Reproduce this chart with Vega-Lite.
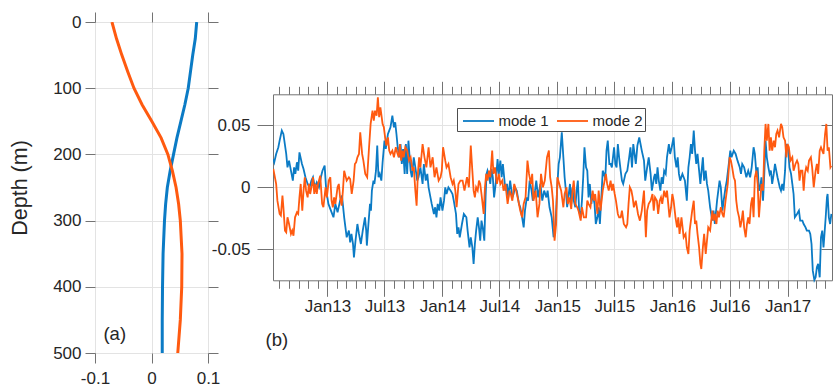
{
  "$schema": "https://vega.github.io/schema/vega-lite/v6.json",
  "background": "white",
  "padding": {"left": 9, "top": 11, "right": 0, "bottom": 0},
  "spacing": -10,
  "resolve": {"scale": {"color": "independent"}, "legend": {"color": "independent"}},
  "config": {
    "font": "Liberation Sans",
    "view": {"stroke": "#737373", "strokeWidth": 1},
    "axis": {"domain": false, "domainColor": "#737373", "domainWidth": 1, "tickColor": "#737373", "tickWidth": 1, "labelFont": "Liberation Sans", "labelFontSize": 17, "labelColor": "#262626", "gridColor": "#e3e3e3", "titleFont": "Liberation Sans", "titleFontWeight": "normal", "titleColor": "#262626", "labelOverlap": false, "labelFlush": false, "labelBound": false}
  },
  "hconcat": [
    {
      "width": 113,
      "height": 331,
      "data": {"values": [
        {"depth": 0, "mode": "mode 1", "value": 0.080},
        {"depth": 25, "mode": "mode 1", "value": 0.0775},
        {"depth": 50, "mode": "mode 1", "value": 0.073},
        {"depth": 75, "mode": "mode 1", "value": 0.069},
        {"depth": 100, "mode": "mode 1", "value": 0.065},
        {"depth": 125, "mode": "mode 1", "value": 0.059},
        {"depth": 150, "mode": "mode 1", "value": 0.052},
        {"depth": 175, "mode": "mode 1", "value": 0.045},
        {"depth": 200, "mode": "mode 1", "value": 0.039},
        {"depth": 225, "mode": "mode 1", "value": 0.033},
        {"depth": 250, "mode": "mode 1", "value": 0.028},
        {"depth": 275, "mode": "mode 1", "value": 0.025},
        {"depth": 300, "mode": "mode 1", "value": 0.023},
        {"depth": 350, "mode": "mode 1", "value": 0.0205},
        {"depth": 400, "mode": "mode 1", "value": 0.0195},
        {"depth": 450, "mode": "mode 1", "value": 0.019},
        {"depth": 500, "mode": "mode 1", "value": 0.019},
        {"depth": 0, "mode": "mode 2", "value": -0.070},
        {"depth": 25, "mode": "mode 2", "value": -0.062},
        {"depth": 50, "mode": "mode 2", "value": -0.0525},
        {"depth": 75, "mode": "mode 2", "value": -0.042},
        {"depth": 100, "mode": "mode 2", "value": -0.031},
        {"depth": 125, "mode": "mode 2", "value": -0.0166},
        {"depth": 150, "mode": "mode 2", "value": 0.0005},
        {"depth": 175, "mode": "mode 2", "value": 0.017},
        {"depth": 200, "mode": "mode 2", "value": 0.029},
        {"depth": 225, "mode": "mode 2", "value": 0.037},
        {"depth": 250, "mode": "mode 2", "value": 0.0435},
        {"depth": 275, "mode": "mode 2", "value": 0.048},
        {"depth": 300, "mode": "mode 2", "value": 0.051},
        {"depth": 350, "mode": "mode 2", "value": 0.054},
        {"depth": 400, "mode": "mode 2", "value": 0.0535},
        {"depth": 450, "mode": "mode 2", "value": 0.051},
        {"depth": 500, "mode": "mode 2", "value": 0.0465}
      ]},
      "layer": [
        {
          "mark": {"type": "line", "strokeWidth": 3, "clip": true},
          "encoding": {
            "x": {"field": "value", "type": "quantitative", "scale": {"domain": [-0.1, 0.1], "nice": false, "zero": false},
              "axis": {"orient": "bottom", "values": [-0.1, 0, 0.1], "title": null, "tickSize": 10, "labelPadding": 7, "grid": true,
                "labelExpr": "datum.value == 0 ? '0' : (datum.value < 0 ? '-' : '') + format(abs(datum.value), '.1f')"}},
            "y": {"field": "depth", "type": "quantitative", "scale": {"domain": [0, 500], "reverse": true, "nice": false},
              "axis": {"orient": "left", "values": [0, 100, 200, 300, 400, 500], "title": "Depth (m)", "titleFontSize": 21.5, "titlePadding": 21, "tickSize": 10, "labelPadding": 4, "grid": true}},
            "color": {"field": "mode", "type": "nominal", "scale": {"domain": ["mode 1", "mode 2"], "range": ["#0B7BC5", "#FF5A10"]}, "legend": null},
            "order": {"field": "depth", "type": "quantitative"}
          }
        },
        {
          "mark": {"type": "point", "opacity": 0},
          "encoding": {
            "x": {"field": "value", "type": "quantitative", "axis": {"orient": "top", "values": [-0.1, 0, 0.1], "labels": false, "title": null, "tickSize": 10, "grid": false}},
            "y": {"field": "depth", "type": "quantitative", "axis": {"orient": "right", "values": [0, 100, 200, 300, 400, 500], "labels": false, "title": null, "tickSize": 10, "grid": false}}
          }
        },
        {
          "data": {"values": [{"value": -0.065, "depth": 472, "label": "(a)"}]},
          "mark": {"type": "text", "fontSize": 18.5, "color": "#262626", "align": "center", "baseline": "middle"},
          "encoding": {
            "x": {"field": "value", "type": "quantitative", "axis": null},
            "y": {"field": "depth", "type": "quantitative", "axis": null},
            "text": {"field": "label"}
          }
        }
      ],
      "resolve": {"axis": {"x": "independent", "y": "independent"}}
    },
    {
      "width": 559,
      "height": 331,
      "view": {"stroke": null},
      "data": {"values": [
        {"date": "2012-07-13", "mode": "mode 1", "value": 0.0228},
        {"date": "2012-07-16", "mode": "mode 1", "value": 0.0202},
        {"date": "2012-07-22", "mode": "mode 1", "value": 0.0269},
        {"date": "2012-07-29", "mode": "mode 1", "value": 0.0323},
        {"date": "2012-08-02", "mode": "mode 1", "value": 0.0376},
        {"date": "2012-08-09", "mode": "mode 1", "value": 0.0457},
        {"date": "2012-08-14", "mode": "mode 1", "value": 0.0430},
        {"date": "2012-08-23", "mode": "mode 1", "value": 0.0269},
        {"date": "2012-08-27", "mode": "mode 1", "value": 0.0161},
        {"date": "2012-09-01", "mode": "mode 1", "value": 0.0215},
        {"date": "2012-09-07", "mode": "mode 1", "value": 0.0134},
        {"date": "2012-09-13", "mode": "mode 1", "value": 0.0054},
        {"date": "2012-09-17", "mode": "mode 1", "value": 0.0161},
        {"date": "2012-09-21", "mode": "mode 1", "value": 0.0108},
        {"date": "2012-09-26", "mode": "mode 1", "value": 0.0202},
        {"date": "2012-09-30", "mode": "mode 1", "value": 0.0134},
        {"date": "2012-10-04", "mode": "mode 1", "value": 0.0282},
        {"date": "2012-10-12", "mode": "mode 1", "value": 0.0188},
        {"date": "2012-10-17", "mode": "mode 1", "value": 0.0148},
        {"date": "2012-10-23", "mode": "mode 1", "value": 0.0081},
        {"date": "2012-10-30", "mode": "mode 1", "value": 0.0027},
        {"date": "2012-11-05", "mode": "mode 1", "value": 0.0},
        {"date": "2012-11-11", "mode": "mode 1", "value": 0.0054},
        {"date": "2012-11-16", "mode": "mode 1", "value": 0.0081},
        {"date": "2012-11-22", "mode": "mode 1", "value": 0.0},
        {"date": "2012-11-28", "mode": "mode 1", "value": 0.0040},
        {"date": "2012-12-05", "mode": "mode 1", "value": 0.0},
        {"date": "2012-12-11", "mode": "mode 1", "value": 0.0081},
        {"date": "2012-12-16", "mode": "mode 1", "value": 0.0134},
        {"date": "2012-12-23", "mode": "mode 1", "value": 0.0175},
        {"date": "2012-12-28", "mode": "mode 1", "value": -0.0027},
        {"date": "2013-01-04", "mode": "mode 1", "value": -0.0134},
        {"date": "2013-01-12", "mode": "mode 1", "value": -0.0188},
        {"date": "2013-01-20", "mode": "mode 1", "value": -0.0242},
        {"date": "2013-01-26", "mode": "mode 1", "value": -0.0134},
        {"date": "2013-02-02", "mode": "mode 1", "value": -0.0202},
        {"date": "2013-02-10", "mode": "mode 1", "value": -0.0108},
        {"date": "2013-02-16", "mode": "mode 1", "value": -0.0067},
        {"date": "2013-02-23", "mode": "mode 1", "value": -0.0242},
        {"date": "2013-02-27", "mode": "mode 1", "value": -0.0323},
        {"date": "2013-03-03", "mode": "mode 1", "value": -0.0403},
        {"date": "2013-03-10", "mode": "mode 1", "value": -0.0349},
        {"date": "2013-03-14", "mode": "mode 1", "value": -0.0444},
        {"date": "2013-03-18", "mode": "mode 1", "value": -0.0376},
        {"date": "2013-03-23", "mode": "mode 1", "value": -0.0457},
        {"date": "2013-03-26", "mode": "mode 1", "value": -0.0565},
        {"date": "2013-03-31", "mode": "mode 1", "value": -0.0430},
        {"date": "2013-04-06", "mode": "mode 1", "value": -0.0296},
        {"date": "2013-04-11", "mode": "mode 1", "value": -0.0376},
        {"date": "2013-04-17", "mode": "mode 1", "value": -0.0457},
        {"date": "2013-04-23", "mode": "mode 1", "value": -0.0349},
        {"date": "2013-04-30", "mode": "mode 1", "value": -0.0242},
        {"date": "2013-05-04", "mode": "mode 1", "value": -0.0349},
        {"date": "2013-05-06", "mode": "mode 1", "value": -0.0470},
        {"date": "2013-05-11", "mode": "mode 1", "value": -0.0296},
        {"date": "2013-05-16", "mode": "mode 1", "value": -0.0134},
        {"date": "2013-05-19", "mode": "mode 1", "value": -0.0188},
        {"date": "2013-05-22", "mode": "mode 1", "value": -0.0027},
        {"date": "2013-05-27", "mode": "mode 1", "value": 0.0054},
        {"date": "2013-05-30", "mode": "mode 1", "value": 0.0027},
        {"date": "2013-06-04", "mode": "mode 1", "value": 0.0134},
        {"date": "2013-06-08", "mode": "mode 1", "value": 0.0336},
        {"date": "2013-06-12", "mode": "mode 1", "value": 0.0081},
        {"date": "2013-06-16", "mode": "mode 1", "value": 0.0108},
        {"date": "2013-06-21", "mode": "mode 1", "value": 0.0054},
        {"date": "2013-06-25", "mode": "mode 1", "value": 0.0202},
        {"date": "2013-07-01", "mode": "mode 1", "value": 0.0376},
        {"date": "2013-07-05", "mode": "mode 1", "value": 0.0309},
        {"date": "2013-07-12", "mode": "mode 1", "value": 0.0430},
        {"date": "2013-07-16", "mode": "mode 1", "value": 0.0457},
        {"date": "2013-07-20", "mode": "mode 1", "value": 0.0484},
        {"date": "2013-07-26", "mode": "mode 1", "value": 0.0578},
        {"date": "2013-07-31", "mode": "mode 1", "value": 0.0484},
        {"date": "2013-08-04", "mode": "mode 1", "value": 0.0524},
        {"date": "2013-08-08", "mode": "mode 1", "value": 0.0430},
        {"date": "2013-08-12", "mode": "mode 1", "value": 0.0323},
        {"date": "2013-08-17", "mode": "mode 1", "value": 0.0242},
        {"date": "2013-08-21", "mode": "mode 1", "value": 0.0349},
        {"date": "2013-08-25", "mode": "mode 1", "value": 0.0188},
        {"date": "2013-08-29", "mode": "mode 1", "value": 0.0309},
        {"date": "2013-09-03", "mode": "mode 1", "value": 0.0108},
        {"date": "2013-09-07", "mode": "mode 1", "value": 0.0349},
        {"date": "2013-09-11", "mode": "mode 1", "value": 0.0108},
        {"date": "2013-09-15", "mode": "mode 1", "value": 0.0376},
        {"date": "2013-09-22", "mode": "mode 1", "value": 0.0134},
        {"date": "2013-09-26", "mode": "mode 1", "value": 0.0081},
        {"date": "2013-10-02", "mode": "mode 1", "value": 0.0242},
        {"date": "2013-10-07", "mode": "mode 1", "value": 0.0161},
        {"date": "2013-10-13", "mode": "mode 1", "value": 0.0054},
        {"date": "2013-10-17", "mode": "mode 1", "value": 0.0081},
        {"date": "2013-10-23", "mode": "mode 1", "value": 0.0161},
        {"date": "2013-10-30", "mode": "mode 1", "value": 0.0027},
        {"date": "2013-11-03", "mode": "mode 1", "value": 0.0188},
        {"date": "2013-11-09", "mode": "mode 1", "value": 0.0054},
        {"date": "2013-11-14", "mode": "mode 1", "value": 0.0108},
        {"date": "2013-11-18", "mode": "mode 1", "value": 0.0},
        {"date": "2013-11-24", "mode": "mode 1", "value": -0.0081},
        {"date": "2013-11-28", "mode": "mode 1", "value": -0.0134},
        {"date": "2013-12-05", "mode": "mode 1", "value": -0.0215},
        {"date": "2013-12-09", "mode": "mode 1", "value": -0.0161},
        {"date": "2013-12-13", "mode": "mode 1", "value": -0.0242},
        {"date": "2013-12-17", "mode": "mode 1", "value": -0.0134},
        {"date": "2013-12-22", "mode": "mode 1", "value": -0.0188},
        {"date": "2013-12-26", "mode": "mode 1", "value": -0.0081},
        {"date": "2014-01-01", "mode": "mode 1", "value": -0.0188},
        {"date": "2014-01-06", "mode": "mode 1", "value": -0.0108},
        {"date": "2014-01-10", "mode": "mode 1", "value": 0.0},
        {"date": "2014-01-14", "mode": "mode 1", "value": -0.0054},
        {"date": "2014-01-20", "mode": "mode 1", "value": 0.0},
        {"date": "2014-01-27", "mode": "mode 1", "value": -0.0027},
        {"date": "2014-02-02", "mode": "mode 1", "value": -0.0054},
        {"date": "2014-02-06", "mode": "mode 1", "value": -0.0108},
        {"date": "2014-02-13", "mode": "mode 1", "value": -0.0215},
        {"date": "2014-02-17", "mode": "mode 1", "value": -0.0376},
        {"date": "2014-02-21", "mode": "mode 1", "value": -0.0323},
        {"date": "2014-02-25", "mode": "mode 1", "value": -0.0403},
        {"date": "2014-03-04", "mode": "mode 1", "value": -0.0296},
        {"date": "2014-03-10", "mode": "mode 1", "value": -0.0215},
        {"date": "2014-03-18", "mode": "mode 1", "value": -0.0242},
        {"date": "2014-03-22", "mode": "mode 1", "value": -0.0349},
        {"date": "2014-03-28", "mode": "mode 1", "value": -0.0484},
        {"date": "2014-04-01", "mode": "mode 1", "value": -0.0403},
        {"date": "2014-04-06", "mode": "mode 1", "value": -0.0484},
        {"date": "2014-04-10", "mode": "mode 1", "value": -0.0618},
        {"date": "2014-04-14", "mode": "mode 1", "value": -0.0457},
        {"date": "2014-04-18", "mode": "mode 1", "value": -0.0349},
        {"date": "2014-04-23", "mode": "mode 1", "value": -0.0242},
        {"date": "2014-04-27", "mode": "mode 1", "value": -0.0323},
        {"date": "2014-05-01", "mode": "mode 1", "value": -0.0430},
        {"date": "2014-05-05", "mode": "mode 1", "value": -0.0269},
        {"date": "2014-05-09", "mode": "mode 1", "value": -0.0323},
        {"date": "2014-05-14", "mode": "mode 1", "value": -0.0430},
        {"date": "2014-05-18", "mode": "mode 1", "value": -0.0081},
        {"date": "2014-05-21", "mode": "mode 1", "value": 0.0108},
        {"date": "2014-05-24", "mode": "mode 1", "value": 0.0134},
        {"date": "2014-05-29", "mode": "mode 1", "value": 0.0081},
        {"date": "2014-06-02", "mode": "mode 1", "value": 0.0027},
        {"date": "2014-06-06", "mode": "mode 1", "value": 0.0148},
        {"date": "2014-06-10", "mode": "mode 1", "value": 0.0081},
        {"date": "2014-06-14", "mode": "mode 1", "value": -0.0081},
        {"date": "2014-06-19", "mode": "mode 1", "value": 0.0027},
        {"date": "2014-06-25", "mode": "mode 1", "value": 0.0228},
        {"date": "2014-06-29", "mode": "mode 1", "value": 0.0108},
        {"date": "2014-07-04", "mode": "mode 1", "value": 0.0215},
        {"date": "2014-07-08", "mode": "mode 1", "value": 0.0081},
        {"date": "2014-07-12", "mode": "mode 1", "value": 0.0188},
        {"date": "2014-07-16", "mode": "mode 1", "value": 0.0081},
        {"date": "2014-07-20", "mode": "mode 1", "value": -0.0027},
        {"date": "2014-07-25", "mode": "mode 1", "value": 0.0027},
        {"date": "2014-07-29", "mode": "mode 1", "value": -0.0081},
        {"date": "2014-08-04", "mode": "mode 1", "value": 0.0054},
        {"date": "2014-08-11", "mode": "mode 1", "value": -0.0081},
        {"date": "2014-08-15", "mode": "mode 1", "value": -0.0054},
        {"date": "2014-08-19", "mode": "mode 1", "value": 0.0},
        {"date": "2014-08-25", "mode": "mode 1", "value": -0.0027},
        {"date": "2014-09-01", "mode": "mode 1", "value": -0.0134},
        {"date": "2014-09-05", "mode": "mode 1", "value": -0.0161},
        {"date": "2014-09-11", "mode": "mode 1", "value": -0.0242},
        {"date": "2014-09-16", "mode": "mode 1", "value": -0.0323},
        {"date": "2014-09-20", "mode": "mode 1", "value": -0.0188},
        {"date": "2014-09-26", "mode": "mode 1", "value": -0.0081},
        {"date": "2014-09-30", "mode": "mode 1", "value": -0.0108},
        {"date": "2014-10-05", "mode": "mode 1", "value": 0.0054},
        {"date": "2014-10-11", "mode": "mode 1", "value": -0.0027},
        {"date": "2014-10-15", "mode": "mode 1", "value": -0.0108},
        {"date": "2014-10-22", "mode": "mode 1", "value": -0.0027},
        {"date": "2014-10-26", "mode": "mode 1", "value": 0.0054},
        {"date": "2014-11-01", "mode": "mode 1", "value": -0.0081},
        {"date": "2014-11-08", "mode": "mode 1", "value": 0.0027},
        {"date": "2014-11-14", "mode": "mode 1", "value": -0.0108},
        {"date": "2014-11-20", "mode": "mode 1", "value": -0.0027},
        {"date": "2014-11-27", "mode": "mode 1", "value": -0.0081},
        {"date": "2014-12-01", "mode": "mode 1", "value": -0.0027},
        {"date": "2014-12-07", "mode": "mode 1", "value": -0.0161},
        {"date": "2014-12-14", "mode": "mode 1", "value": -0.0242},
        {"date": "2014-12-20", "mode": "mode 1", "value": -0.0403},
        {"date": "2014-12-26", "mode": "mode 1", "value": -0.0296},
        {"date": "2014-12-31", "mode": "mode 1", "value": -0.0027},
        {"date": "2015-01-05", "mode": "mode 1", "value": 0.0188},
        {"date": "2015-01-09", "mode": "mode 1", "value": 0.0242},
        {"date": "2015-01-15", "mode": "mode 1", "value": 0.0444},
        {"date": "2015-01-20", "mode": "mode 1", "value": 0.0242},
        {"date": "2015-01-24", "mode": "mode 1", "value": 0.0081},
        {"date": "2015-01-28", "mode": "mode 1", "value": -0.0027},
        {"date": "2015-02-01", "mode": "mode 1", "value": -0.0161},
        {"date": "2015-02-06", "mode": "mode 1", "value": -0.0054},
        {"date": "2015-02-10", "mode": "mode 1", "value": 0.0027},
        {"date": "2015-02-14", "mode": "mode 1", "value": -0.0134},
        {"date": "2015-02-18", "mode": "mode 1", "value": 0.0},
        {"date": "2015-02-22", "mode": "mode 1", "value": -0.0108},
        {"date": "2015-02-27", "mode": "mode 1", "value": -0.0161},
        {"date": "2015-03-03", "mode": "mode 1", "value": -0.0027},
        {"date": "2015-03-07", "mode": "mode 1", "value": 0.0054},
        {"date": "2015-03-11", "mode": "mode 1", "value": -0.0188},
        {"date": "2015-03-16", "mode": "mode 1", "value": -0.0242},
        {"date": "2015-03-20", "mode": "mode 1", "value": -0.0108},
        {"date": "2015-03-24", "mode": "mode 1", "value": 0.0081},
        {"date": "2015-03-28", "mode": "mode 1", "value": 0.0323},
        {"date": "2015-04-02", "mode": "mode 1", "value": 0.0161},
        {"date": "2015-04-06", "mode": "mode 1", "value": 0.0134},
        {"date": "2015-04-10", "mode": "mode 1", "value": -0.0081},
        {"date": "2015-04-14", "mode": "mode 1", "value": 0.0027},
        {"date": "2015-04-19", "mode": "mode 1", "value": -0.0134},
        {"date": "2015-04-23", "mode": "mode 1", "value": -0.0054},
        {"date": "2015-04-29", "mode": "mode 1", "value": -0.0134},
        {"date": "2015-05-03", "mode": "mode 1", "value": -0.0296},
        {"date": "2015-05-08", "mode": "mode 1", "value": -0.0242},
        {"date": "2015-05-12", "mode": "mode 1", "value": -0.0161},
        {"date": "2015-05-16", "mode": "mode 1", "value": -0.0296},
        {"date": "2015-05-20", "mode": "mode 1", "value": -0.0108},
        {"date": "2015-05-25", "mode": "mode 1", "value": 0.0134},
        {"date": "2015-05-29", "mode": "mode 1", "value": 0.0108},
        {"date": "2015-06-02", "mode": "mode 1", "value": 0.0067},
        {"date": "2015-06-06", "mode": "mode 1", "value": 0.0296},
        {"date": "2015-06-10", "mode": "mode 1", "value": 0.0376},
        {"date": "2015-06-15", "mode": "mode 1", "value": 0.0188},
        {"date": "2015-06-19", "mode": "mode 1", "value": 0.0188},
        {"date": "2015-06-23", "mode": "mode 1", "value": 0.0161},
        {"date": "2015-06-30", "mode": "mode 1", "value": 0.0323},
        {"date": "2015-07-04", "mode": "mode 1", "value": 0.0188},
        {"date": "2015-07-08", "mode": "mode 1", "value": 0.0161},
        {"date": "2015-07-12", "mode": "mode 1", "value": 0.0349},
        {"date": "2015-07-16", "mode": "mode 1", "value": 0.0242},
        {"date": "2015-07-21", "mode": "mode 1", "value": 0.0134},
        {"date": "2015-07-25", "mode": "mode 1", "value": 0.0054},
        {"date": "2015-07-29", "mode": "mode 1", "value": 0.0027},
        {"date": "2015-08-05", "mode": "mode 1", "value": 0.0108},
        {"date": "2015-08-11", "mode": "mode 1", "value": 0.0134},
        {"date": "2015-08-17", "mode": "mode 1", "value": 0.0242},
        {"date": "2015-08-21", "mode": "mode 1", "value": 0.0323},
        {"date": "2015-08-26", "mode": "mode 1", "value": 0.0161},
        {"date": "2015-08-30", "mode": "mode 1", "value": 0.0349},
        {"date": "2015-09-03", "mode": "mode 1", "value": 0.0269},
        {"date": "2015-09-07", "mode": "mode 1", "value": 0.0188},
        {"date": "2015-09-12", "mode": "mode 1", "value": 0.0336},
        {"date": "2015-09-18", "mode": "mode 1", "value": 0.0403},
        {"date": "2015-09-22", "mode": "mode 1", "value": 0.0349},
        {"date": "2015-09-26", "mode": "mode 1", "value": 0.0296},
        {"date": "2015-10-03", "mode": "mode 1", "value": 0.0215},
        {"date": "2015-10-07", "mode": "mode 1", "value": 0.0054},
        {"date": "2015-10-13", "mode": "mode 1", "value": 0.0161},
        {"date": "2015-10-18", "mode": "mode 1", "value": 0.0242},
        {"date": "2015-10-24", "mode": "mode 1", "value": 0.0108},
        {"date": "2015-10-28", "mode": "mode 1", "value": -0.0027},
        {"date": "2015-11-04", "mode": "mode 1", "value": 0.0081},
        {"date": "2015-11-07", "mode": "mode 1", "value": 0.0108},
        {"date": "2015-11-11", "mode": "mode 1", "value": 0.0027},
        {"date": "2015-11-15", "mode": "mode 1", "value": 0.0161},
        {"date": "2015-11-19", "mode": "mode 1", "value": 0.0054},
        {"date": "2015-11-24", "mode": "mode 1", "value": -0.0027},
        {"date": "2015-11-28", "mode": "mode 1", "value": 0.0081},
        {"date": "2015-12-02", "mode": "mode 1", "value": 0.0027},
        {"date": "2015-12-06", "mode": "mode 1", "value": 0.0134},
        {"date": "2015-12-11", "mode": "mode 1", "value": 0.0108},
        {"date": "2015-12-15", "mode": "mode 1", "value": 0.0242},
        {"date": "2015-12-21", "mode": "mode 1", "value": 0.0349},
        {"date": "2015-12-25", "mode": "mode 1", "value": 0.0269},
        {"date": "2015-12-30", "mode": "mode 1", "value": 0.0323},
        {"date": "2016-01-05", "mode": "mode 1", "value": 0.0403},
        {"date": "2016-01-09", "mode": "mode 1", "value": 0.0242},
        {"date": "2016-01-14", "mode": "mode 1", "value": 0.0161},
        {"date": "2016-01-18", "mode": "mode 1", "value": 0.0242},
        {"date": "2016-01-22", "mode": "mode 1", "value": 0.0108},
        {"date": "2016-01-26", "mode": "mode 1", "value": 0.0054},
        {"date": "2016-02-02", "mode": "mode 1", "value": 0.0108},
        {"date": "2016-02-06", "mode": "mode 1", "value": 0.0081},
        {"date": "2016-02-10", "mode": "mode 1", "value": 0.0054},
        {"date": "2016-02-16", "mode": "mode 1", "value": -0.0108},
        {"date": "2016-02-21", "mode": "mode 1", "value": 0.0161},
        {"date": "2016-02-25", "mode": "mode 1", "value": 0.0242},
        {"date": "2016-02-29", "mode": "mode 1", "value": 0.0349},
        {"date": "2016-03-04", "mode": "mode 1", "value": 0.0269},
        {"date": "2016-03-09", "mode": "mode 1", "value": 0.0457},
        {"date": "2016-03-13", "mode": "mode 1", "value": 0.0296},
        {"date": "2016-03-17", "mode": "mode 1", "value": 0.0188},
        {"date": "2016-03-21", "mode": "mode 1", "value": 0.0269},
        {"date": "2016-03-26", "mode": "mode 1", "value": 0.0134},
        {"date": "2016-03-30", "mode": "mode 1", "value": 0.0027},
        {"date": "2016-04-03", "mode": "mode 1", "value": 0.0134},
        {"date": "2016-04-07", "mode": "mode 1", "value": 0.0242},
        {"date": "2016-04-11", "mode": "mode 1", "value": 0.0054},
        {"date": "2016-04-16", "mode": "mode 1", "value": 0.0134},
        {"date": "2016-04-20", "mode": "mode 1", "value": 0.0027},
        {"date": "2016-04-24", "mode": "mode 1", "value": -0.0027},
        {"date": "2016-04-30", "mode": "mode 1", "value": -0.0161},
        {"date": "2016-05-07", "mode": "mode 1", "value": -0.0269},
        {"date": "2016-05-11", "mode": "mode 1", "value": -0.0188},
        {"date": "2016-05-15", "mode": "mode 1", "value": -0.0296},
        {"date": "2016-05-22", "mode": "mode 1", "value": -0.0108},
        {"date": "2016-05-26", "mode": "mode 1", "value": -0.0027},
        {"date": "2016-05-30", "mode": "mode 1", "value": 0.0054},
        {"date": "2016-06-03", "mode": "mode 1", "value": 0.0},
        {"date": "2016-06-08", "mode": "mode 1", "value": -0.0188},
        {"date": "2016-06-12", "mode": "mode 1", "value": -0.0108},
        {"date": "2016-06-18", "mode": "mode 1", "value": 0.0},
        {"date": "2016-06-22", "mode": "mode 1", "value": 0.0054},
        {"date": "2016-06-27", "mode": "mode 1", "value": 0.0161},
        {"date": "2016-07-03", "mode": "mode 1", "value": 0.0296},
        {"date": "2016-07-07", "mode": "mode 1", "value": 0.0242},
        {"date": "2016-07-14", "mode": "mode 1", "value": 0.0296},
        {"date": "2016-07-20", "mode": "mode 1", "value": 0.0269},
        {"date": "2016-07-26", "mode": "mode 1", "value": 0.0215},
        {"date": "2016-08-02", "mode": "mode 1", "value": 0.0161},
        {"date": "2016-08-06", "mode": "mode 1", "value": 0.0108},
        {"date": "2016-08-10", "mode": "mode 1", "value": 0.0188},
        {"date": "2016-08-16", "mode": "mode 1", "value": 0.0161},
        {"date": "2016-08-23", "mode": "mode 1", "value": 0.0081},
        {"date": "2016-08-29", "mode": "mode 1", "value": 0.0134},
        {"date": "2016-09-04", "mode": "mode 1", "value": 0.0081},
        {"date": "2016-09-09", "mode": "mode 1", "value": 0.0161},
        {"date": "2016-09-15", "mode": "mode 1", "value": 0.0323},
        {"date": "2016-09-19", "mode": "mode 1", "value": 0.0269},
        {"date": "2016-09-24", "mode": "mode 1", "value": 0.0108},
        {"date": "2016-09-28", "mode": "mode 1", "value": 0.0161},
        {"date": "2016-10-02", "mode": "mode 1", "value": -0.0027},
        {"date": "2016-10-06", "mode": "mode 1", "value": 0.0},
        {"date": "2016-10-10", "mode": "mode 1", "value": 0.0081},
        {"date": "2016-10-15", "mode": "mode 1", "value": -0.0108},
        {"date": "2016-10-19", "mode": "mode 1", "value": 0.0108},
        {"date": "2016-10-23", "mode": "mode 1", "value": 0.0376},
        {"date": "2016-10-27", "mode": "mode 1", "value": 0.0242},
        {"date": "2016-11-01", "mode": "mode 1", "value": 0.0161},
        {"date": "2016-11-05", "mode": "mode 1", "value": 0.0108},
        {"date": "2016-11-09", "mode": "mode 1", "value": 0.0134},
        {"date": "2016-11-13", "mode": "mode 1", "value": 0.0027},
        {"date": "2016-11-18", "mode": "mode 1", "value": 0.0108},
        {"date": "2016-11-22", "mode": "mode 1", "value": 0.0188},
        {"date": "2016-11-26", "mode": "mode 1", "value": 0.0134},
        {"date": "2016-11-30", "mode": "mode 1", "value": 0.0081},
        {"date": "2016-12-07", "mode": "mode 1", "value": 0.0},
        {"date": "2016-12-11", "mode": "mode 1", "value": -0.0027},
        {"date": "2016-12-15", "mode": "mode 1", "value": 0.0027},
        {"date": "2016-12-19", "mode": "mode 1", "value": -0.0027},
        {"date": "2016-12-24", "mode": "mode 1", "value": 0.0134},
        {"date": "2016-12-27", "mode": "mode 1", "value": 0.0323},
        {"date": "2016-12-30", "mode": "mode 1", "value": 0.0349},
        {"date": "2017-01-03", "mode": "mode 1", "value": 0.0296},
        {"date": "2017-01-07", "mode": "mode 1", "value": 0.0161},
        {"date": "2017-01-12", "mode": "mode 1", "value": 0.0108},
        {"date": "2017-01-16", "mode": "mode 1", "value": 0.0027},
        {"date": "2017-01-20", "mode": "mode 1", "value": -0.0054},
        {"date": "2017-01-24", "mode": "mode 1", "value": -0.0242},
        {"date": "2017-01-31", "mode": "mode 1", "value": -0.0215},
        {"date": "2017-02-06", "mode": "mode 1", "value": -0.0188},
        {"date": "2017-02-10", "mode": "mode 1", "value": -0.0269},
        {"date": "2017-02-17", "mode": "mode 1", "value": -0.0269},
        {"date": "2017-02-21", "mode": "mode 1", "value": -0.0296},
        {"date": "2017-02-27", "mode": "mode 1", "value": -0.0323},
        {"date": "2017-03-03", "mode": "mode 1", "value": -0.0349},
        {"date": "2017-03-10", "mode": "mode 1", "value": -0.0349},
        {"date": "2017-03-14", "mode": "mode 1", "value": -0.0376},
        {"date": "2017-03-18", "mode": "mode 1", "value": -0.0457},
        {"date": "2017-03-22", "mode": "mode 1", "value": -0.0672},
        {"date": "2017-03-27", "mode": "mode 1", "value": -0.0748},
        {"date": "2017-03-31", "mode": "mode 1", "value": -0.0726},
        {"date": "2017-04-04", "mode": "mode 1", "value": -0.0645},
        {"date": "2017-04-08", "mode": "mode 1", "value": -0.0618},
        {"date": "2017-04-13", "mode": "mode 1", "value": -0.0726},
        {"date": "2017-04-17", "mode": "mode 1", "value": -0.0403},
        {"date": "2017-04-21", "mode": "mode 1", "value": -0.0349},
        {"date": "2017-04-25", "mode": "mode 1", "value": -0.0484},
        {"date": "2017-05-02", "mode": "mode 1", "value": -0.0242},
        {"date": "2017-05-06", "mode": "mode 1", "value": -0.0081},
        {"date": "2017-05-08", "mode": "mode 1", "value": -0.0054},
        {"date": "2017-05-12", "mode": "mode 1", "value": -0.0242},
        {"date": "2017-05-16", "mode": "mode 1", "value": -0.0296},
        {"date": "2017-05-20", "mode": "mode 1", "value": -0.0215},
        {"date": "2012-07-13", "mode": "mode 2", "value": 0.0148},
        {"date": "2012-07-16", "mode": "mode 2", "value": 0.0108},
        {"date": "2012-07-22", "mode": "mode 2", "value": 0.0027},
        {"date": "2012-07-26", "mode": "mode 2", "value": -0.0108},
        {"date": "2012-08-02", "mode": "mode 2", "value": -0.0215},
        {"date": "2012-08-06", "mode": "mode 2", "value": -0.0228},
        {"date": "2012-08-11", "mode": "mode 2", "value": -0.0067},
        {"date": "2012-08-14", "mode": "mode 2", "value": -0.0161},
        {"date": "2012-08-19", "mode": "mode 2", "value": -0.0349},
        {"date": "2012-08-23", "mode": "mode 2", "value": -0.0363},
        {"date": "2012-08-27", "mode": "mode 2", "value": -0.0242},
        {"date": "2012-09-01", "mode": "mode 2", "value": -0.0296},
        {"date": "2012-09-07", "mode": "mode 2", "value": -0.0376},
        {"date": "2012-09-11", "mode": "mode 2", "value": -0.0349},
        {"date": "2012-09-15", "mode": "mode 2", "value": -0.0390},
        {"date": "2012-09-20", "mode": "mode 2", "value": -0.0242},
        {"date": "2012-09-26", "mode": "mode 2", "value": -0.0202},
        {"date": "2012-09-30", "mode": "mode 2", "value": -0.0215},
        {"date": "2012-10-04", "mode": "mode 2", "value": -0.0081},
        {"date": "2012-10-08", "mode": "mode 2", "value": 0.0027},
        {"date": "2012-10-13", "mode": "mode 2", "value": -0.0188},
        {"date": "2012-10-17", "mode": "mode 2", "value": -0.0027},
        {"date": "2012-10-21", "mode": "mode 2", "value": 0.0081},
        {"date": "2012-10-25", "mode": "mode 2", "value": -0.0027},
        {"date": "2012-10-30", "mode": "mode 2", "value": -0.0081},
        {"date": "2012-11-03", "mode": "mode 2", "value": 0.0027},
        {"date": "2012-11-07", "mode": "mode 2", "value": -0.0054},
        {"date": "2012-11-11", "mode": "mode 2", "value": 0.0},
        {"date": "2012-11-16", "mode": "mode 2", "value": 0.0081},
        {"date": "2012-11-20", "mode": "mode 2", "value": -0.0054},
        {"date": "2012-11-24", "mode": "mode 2", "value": 0.0027},
        {"date": "2012-11-28", "mode": "mode 2", "value": -0.0054},
        {"date": "2012-12-02", "mode": "mode 2", "value": 0.0027},
        {"date": "2012-12-09", "mode": "mode 2", "value": 0.0094},
        {"date": "2012-12-15", "mode": "mode 2", "value": -0.0134},
        {"date": "2012-12-19", "mode": "mode 2", "value": -0.0161},
        {"date": "2012-12-26", "mode": "mode 2", "value": 0.0},
        {"date": "2012-12-30", "mode": "mode 2", "value": -0.0081},
        {"date": "2013-01-05", "mode": "mode 2", "value": 0.0054},
        {"date": "2013-01-10", "mode": "mode 2", "value": 0.0081},
        {"date": "2013-01-14", "mode": "mode 2", "value": -0.0108},
        {"date": "2013-01-18", "mode": "mode 2", "value": -0.0161},
        {"date": "2013-01-22", "mode": "mode 2", "value": -0.0081},
        {"date": "2013-01-26", "mode": "mode 2", "value": -0.0134},
        {"date": "2013-02-02", "mode": "mode 2", "value": 0.0},
        {"date": "2013-02-06", "mode": "mode 2", "value": 0.0027},
        {"date": "2013-02-10", "mode": "mode 2", "value": -0.0081},
        {"date": "2013-02-15", "mode": "mode 2", "value": -0.0148},
        {"date": "2013-02-19", "mode": "mode 2", "value": -0.0027},
        {"date": "2013-02-23", "mode": "mode 2", "value": 0.0134},
        {"date": "2013-02-27", "mode": "mode 2", "value": 0.0094},
        {"date": "2013-03-03", "mode": "mode 2", "value": 0.0054},
        {"date": "2013-03-10", "mode": "mode 2", "value": 0.0081},
        {"date": "2013-03-14", "mode": "mode 2", "value": 0.0067},
        {"date": "2013-03-19", "mode": "mode 2", "value": -0.0054},
        {"date": "2013-03-25", "mode": "mode 2", "value": 0.0054},
        {"date": "2013-03-29", "mode": "mode 2", "value": 0.0188},
        {"date": "2013-04-02", "mode": "mode 2", "value": 0.0202},
        {"date": "2013-04-06", "mode": "mode 2", "value": 0.0242},
        {"date": "2013-04-11", "mode": "mode 2", "value": 0.0269},
        {"date": "2013-04-15", "mode": "mode 2", "value": 0.0444},
        {"date": "2013-04-21", "mode": "mode 2", "value": 0.0269},
        {"date": "2013-04-25", "mode": "mode 2", "value": 0.0215},
        {"date": "2013-05-01", "mode": "mode 2", "value": 0.0108},
        {"date": "2013-05-07", "mode": "mode 2", "value": 0.0081},
        {"date": "2013-05-13", "mode": "mode 2", "value": 0.0323},
        {"date": "2013-05-18", "mode": "mode 2", "value": 0.0511},
        {"date": "2013-05-24", "mode": "mode 2", "value": 0.0618},
        {"date": "2013-05-28", "mode": "mode 2", "value": 0.0538},
        {"date": "2013-06-01", "mode": "mode 2", "value": 0.0618},
        {"date": "2013-06-06", "mode": "mode 2", "value": 0.0578},
        {"date": "2013-06-10", "mode": "mode 2", "value": 0.0726},
        {"date": "2013-06-14", "mode": "mode 2", "value": 0.0565},
        {"date": "2013-06-18", "mode": "mode 2", "value": 0.0645},
        {"date": "2013-06-25", "mode": "mode 2", "value": 0.0511},
        {"date": "2013-06-29", "mode": "mode 2", "value": 0.0484},
        {"date": "2013-07-03", "mode": "mode 2", "value": 0.0403},
        {"date": "2013-07-07", "mode": "mode 2", "value": 0.0336},
        {"date": "2013-07-12", "mode": "mode 2", "value": 0.0403},
        {"date": "2013-07-16", "mode": "mode 2", "value": 0.0296},
        {"date": "2013-07-20", "mode": "mode 2", "value": 0.0269},
        {"date": "2013-07-26", "mode": "mode 2", "value": 0.0296},
        {"date": "2013-07-31", "mode": "mode 2", "value": 0.0242},
        {"date": "2013-08-06", "mode": "mode 2", "value": 0.0323},
        {"date": "2013-08-10", "mode": "mode 2", "value": 0.0282},
        {"date": "2013-08-15", "mode": "mode 2", "value": 0.0242},
        {"date": "2013-08-19", "mode": "mode 2", "value": 0.0349},
        {"date": "2013-08-23", "mode": "mode 2", "value": 0.0215},
        {"date": "2013-08-27", "mode": "mode 2", "value": 0.0296},
        {"date": "2013-08-31", "mode": "mode 2", "value": 0.0242},
        {"date": "2013-09-05", "mode": "mode 2", "value": 0.0323},
        {"date": "2013-09-11", "mode": "mode 2", "value": 0.0296},
        {"date": "2013-09-17", "mode": "mode 2", "value": 0.0215},
        {"date": "2013-09-22", "mode": "mode 2", "value": 0.0242},
        {"date": "2013-09-28", "mode": "mode 2", "value": 0.0134},
        {"date": "2013-10-02", "mode": "mode 2", "value": 0.0161},
        {"date": "2013-10-07", "mode": "mode 2", "value": -0.0027},
        {"date": "2013-10-11", "mode": "mode 2", "value": -0.0148},
        {"date": "2013-10-15", "mode": "mode 2", "value": 0.0108},
        {"date": "2013-10-19", "mode": "mode 2", "value": 0.0242},
        {"date": "2013-10-23", "mode": "mode 2", "value": 0.0161},
        {"date": "2013-10-30", "mode": "mode 2", "value": 0.0349},
        {"date": "2013-11-05", "mode": "mode 2", "value": 0.0242},
        {"date": "2013-11-11", "mode": "mode 2", "value": 0.0161},
        {"date": "2013-11-18", "mode": "mode 2", "value": 0.0323},
        {"date": "2013-11-24", "mode": "mode 2", "value": 0.0161},
        {"date": "2013-12-01", "mode": "mode 2", "value": 0.0242},
        {"date": "2013-12-07", "mode": "mode 2", "value": 0.0081},
        {"date": "2013-12-13", "mode": "mode 2", "value": 0.0161},
        {"date": "2013-12-20", "mode": "mode 2", "value": 0.0054},
        {"date": "2013-12-26", "mode": "mode 2", "value": 0.0081},
        {"date": "2013-12-30", "mode": "mode 2", "value": 0.0134},
        {"date": "2014-01-03", "mode": "mode 2", "value": 0.0323},
        {"date": "2014-01-10", "mode": "mode 2", "value": 0.0215},
        {"date": "2014-01-14", "mode": "mode 2", "value": 0.0161},
        {"date": "2014-01-20", "mode": "mode 2", "value": 0.0188},
        {"date": "2014-01-27", "mode": "mode 2", "value": 0.0081},
        {"date": "2014-02-02", "mode": "mode 2", "value": 0.0027},
        {"date": "2014-02-06", "mode": "mode 2", "value": 0.0054},
        {"date": "2014-02-11", "mode": "mode 2", "value": -0.0027},
        {"date": "2014-02-15", "mode": "mode 2", "value": -0.0161},
        {"date": "2014-02-21", "mode": "mode 2", "value": 0.0027},
        {"date": "2014-02-27", "mode": "mode 2", "value": 0.0054},
        {"date": "2014-03-06", "mode": "mode 2", "value": 0.0054},
        {"date": "2014-03-12", "mode": "mode 2", "value": -0.0027},
        {"date": "2014-03-20", "mode": "mode 2", "value": 0.0081},
        {"date": "2014-03-26", "mode": "mode 2", "value": 0.0},
        {"date": "2014-04-01", "mode": "mode 2", "value": 0.0336},
        {"date": "2014-04-06", "mode": "mode 2", "value": 0.0134},
        {"date": "2014-04-10", "mode": "mode 2", "value": -0.0027},
        {"date": "2014-04-14", "mode": "mode 2", "value": -0.0081},
        {"date": "2014-04-18", "mode": "mode 2", "value": 0.0},
        {"date": "2014-04-23", "mode": "mode 2", "value": -0.0027},
        {"date": "2014-04-27", "mode": "mode 2", "value": 0.0054},
        {"date": "2014-05-01", "mode": "mode 2", "value": 0.0027},
        {"date": "2014-05-05", "mode": "mode 2", "value": -0.0054},
        {"date": "2014-05-12", "mode": "mode 2", "value": -0.0215},
        {"date": "2014-05-16", "mode": "mode 2", "value": 0.0},
        {"date": "2014-05-20", "mode": "mode 2", "value": 0.0108},
        {"date": "2014-05-24", "mode": "mode 2", "value": 0.0054},
        {"date": "2014-05-29", "mode": "mode 2", "value": 0.0134},
        {"date": "2014-06-02", "mode": "mode 2", "value": 0.0081},
        {"date": "2014-06-08", "mode": "mode 2", "value": 0.0296},
        {"date": "2014-06-12", "mode": "mode 2", "value": 0.0108},
        {"date": "2014-06-17", "mode": "mode 2", "value": 0.0161},
        {"date": "2014-06-23", "mode": "mode 2", "value": 0.0027},
        {"date": "2014-06-29", "mode": "mode 2", "value": 0.0108},
        {"date": "2014-07-04", "mode": "mode 2", "value": 0.0027},
        {"date": "2014-07-10", "mode": "mode 2", "value": 0.0054},
        {"date": "2014-07-14", "mode": "mode 2", "value": -0.0027},
        {"date": "2014-07-20", "mode": "mode 2", "value": 0.0027},
        {"date": "2014-07-27", "mode": "mode 2", "value": -0.0134},
        {"date": "2014-08-02", "mode": "mode 2", "value": -0.0027},
        {"date": "2014-08-06", "mode": "mode 2", "value": -0.0054},
        {"date": "2014-08-11", "mode": "mode 2", "value": -0.0108},
        {"date": "2014-08-17", "mode": "mode 2", "value": 0.0027},
        {"date": "2014-08-23", "mode": "mode 2", "value": -0.0027},
        {"date": "2014-08-30", "mode": "mode 2", "value": -0.0108},
        {"date": "2014-09-05", "mode": "mode 2", "value": -0.0188},
        {"date": "2014-09-11", "mode": "mode 2", "value": -0.0242},
        {"date": "2014-09-16", "mode": "mode 2", "value": -0.0134},
        {"date": "2014-09-22", "mode": "mode 2", "value": -0.0081},
        {"date": "2014-09-28", "mode": "mode 2", "value": 0.0215},
        {"date": "2014-10-03", "mode": "mode 2", "value": 0.0108},
        {"date": "2014-10-09", "mode": "mode 2", "value": 0.0027},
        {"date": "2014-10-13", "mode": "mode 2", "value": 0.0108},
        {"date": "2014-10-17", "mode": "mode 2", "value": -0.0108},
        {"date": "2014-10-24", "mode": "mode 2", "value": -0.0027},
        {"date": "2014-10-30", "mode": "mode 2", "value": -0.0242},
        {"date": "2014-11-05", "mode": "mode 2", "value": -0.0134},
        {"date": "2014-11-10", "mode": "mode 2", "value": 0.0108},
        {"date": "2014-11-16", "mode": "mode 2", "value": 0.0},
        {"date": "2014-11-22", "mode": "mode 2", "value": 0.0054},
        {"date": "2014-11-29", "mode": "mode 2", "value": 0.0242},
        {"date": "2014-12-05", "mode": "mode 2", "value": 0.0296},
        {"date": "2014-12-09", "mode": "mode 2", "value": 0.0081},
        {"date": "2014-12-14", "mode": "mode 2", "value": 0.0},
        {"date": "2014-12-18", "mode": "mode 2", "value": -0.0108},
        {"date": "2014-12-23", "mode": "mode 2", "value": -0.0430},
        {"date": "2014-12-28", "mode": "mode 2", "value": -0.0296},
        {"date": "2015-01-01", "mode": "mode 2", "value": 0.0081},
        {"date": "2015-01-07", "mode": "mode 2", "value": 0.0027},
        {"date": "2015-01-13", "mode": "mode 2", "value": -0.0027},
        {"date": "2015-01-20", "mode": "mode 2", "value": -0.0161},
        {"date": "2015-01-24", "mode": "mode 2", "value": -0.0054},
        {"date": "2015-01-30", "mode": "mode 2", "value": 0.0},
        {"date": "2015-02-03", "mode": "mode 2", "value": -0.0134},
        {"date": "2015-02-08", "mode": "mode 2", "value": -0.0081},
        {"date": "2015-02-14", "mode": "mode 2", "value": -0.0175},
        {"date": "2015-02-18", "mode": "mode 2", "value": -0.0027},
        {"date": "2015-02-22", "mode": "mode 2", "value": 0.0054},
        {"date": "2015-02-27", "mode": "mode 2", "value": -0.0134},
        {"date": "2015-03-05", "mode": "mode 2", "value": -0.0161},
        {"date": "2015-03-09", "mode": "mode 2", "value": -0.0188},
        {"date": "2015-03-16", "mode": "mode 2", "value": -0.0269},
        {"date": "2015-03-20", "mode": "mode 2", "value": -0.0161},
        {"date": "2015-03-26", "mode": "mode 2", "value": -0.0242},
        {"date": "2015-04-02", "mode": "mode 2", "value": -0.0242},
        {"date": "2015-04-06", "mode": "mode 2", "value": -0.0108},
        {"date": "2015-04-10", "mode": "mode 2", "value": -0.0134},
        {"date": "2015-04-16", "mode": "mode 2", "value": -0.0161},
        {"date": "2015-04-23", "mode": "mode 2", "value": -0.0027},
        {"date": "2015-04-27", "mode": "mode 2", "value": -0.0108},
        {"date": "2015-05-01", "mode": "mode 2", "value": -0.0054},
        {"date": "2015-05-08", "mode": "mode 2", "value": -0.0215},
        {"date": "2015-05-12", "mode": "mode 2", "value": -0.0027},
        {"date": "2015-05-18", "mode": "mode 2", "value": -0.0188},
        {"date": "2015-05-25", "mode": "mode 2", "value": -0.0027},
        {"date": "2015-05-31", "mode": "mode 2", "value": 0.0054},
        {"date": "2015-06-04", "mode": "mode 2", "value": 0.0108},
        {"date": "2015-06-08", "mode": "mode 2", "value": 0.0027},
        {"date": "2015-06-13", "mode": "mode 2", "value": -0.0027},
        {"date": "2015-06-19", "mode": "mode 2", "value": 0.0054},
        {"date": "2015-06-23", "mode": "mode 2", "value": -0.0027},
        {"date": "2015-06-27", "mode": "mode 2", "value": 0.0027},
        {"date": "2015-07-02", "mode": "mode 2", "value": -0.0054},
        {"date": "2015-07-06", "mode": "mode 2", "value": -0.0108},
        {"date": "2015-07-12", "mode": "mode 2", "value": -0.0215},
        {"date": "2015-07-16", "mode": "mode 2", "value": -0.0242},
        {"date": "2015-07-21", "mode": "mode 2", "value": -0.0242},
        {"date": "2015-07-25", "mode": "mode 2", "value": -0.0188},
        {"date": "2015-07-31", "mode": "mode 2", "value": -0.0296},
        {"date": "2015-08-07", "mode": "mode 2", "value": -0.0323},
        {"date": "2015-08-11", "mode": "mode 2", "value": -0.0296},
        {"date": "2015-08-15", "mode": "mode 2", "value": -0.0134},
        {"date": "2015-08-19", "mode": "mode 2", "value": 0.0},
        {"date": "2015-08-24", "mode": "mode 2", "value": -0.0027},
        {"date": "2015-08-28", "mode": "mode 2", "value": -0.0081},
        {"date": "2015-09-01", "mode": "mode 2", "value": -0.0161},
        {"date": "2015-09-07", "mode": "mode 2", "value": -0.0108},
        {"date": "2015-09-14", "mode": "mode 2", "value": -0.0215},
        {"date": "2015-09-20", "mode": "mode 2", "value": -0.0269},
        {"date": "2015-09-26", "mode": "mode 2", "value": -0.0188},
        {"date": "2015-10-03", "mode": "mode 2", "value": -0.0027},
        {"date": "2015-10-09", "mode": "mode 2", "value": -0.0403},
        {"date": "2015-10-13", "mode": "mode 2", "value": -0.0188},
        {"date": "2015-10-18", "mode": "mode 2", "value": -0.0134},
        {"date": "2015-10-24", "mode": "mode 2", "value": -0.0108},
        {"date": "2015-10-30", "mode": "mode 2", "value": -0.0054},
        {"date": "2015-11-03", "mode": "mode 2", "value": -0.0188},
        {"date": "2015-11-07", "mode": "mode 2", "value": -0.0081},
        {"date": "2015-11-13", "mode": "mode 2", "value": -0.0108},
        {"date": "2015-11-17", "mode": "mode 2", "value": -0.0215},
        {"date": "2015-11-22", "mode": "mode 2", "value": -0.0108},
        {"date": "2015-11-26", "mode": "mode 2", "value": -0.0081},
        {"date": "2015-11-30", "mode": "mode 2", "value": -0.0134},
        {"date": "2015-12-06", "mode": "mode 2", "value": -0.0027},
        {"date": "2015-12-11", "mode": "mode 2", "value": -0.0081},
        {"date": "2015-12-15", "mode": "mode 2", "value": -0.0027},
        {"date": "2015-12-19", "mode": "mode 2", "value": -0.0134},
        {"date": "2015-12-23", "mode": "mode 2", "value": -0.0242},
        {"date": "2015-12-28", "mode": "mode 2", "value": -0.0161},
        {"date": "2016-01-01", "mode": "mode 2", "value": -0.0054},
        {"date": "2016-01-05", "mode": "mode 2", "value": -0.0108},
        {"date": "2016-01-11", "mode": "mode 2", "value": -0.0242},
        {"date": "2016-01-16", "mode": "mode 2", "value": -0.0323},
        {"date": "2016-01-20", "mode": "mode 2", "value": -0.0242},
        {"date": "2016-01-24", "mode": "mode 2", "value": -0.0376},
        {"date": "2016-01-30", "mode": "mode 2", "value": -0.0242},
        {"date": "2016-02-06", "mode": "mode 2", "value": -0.0403},
        {"date": "2016-02-12", "mode": "mode 2", "value": -0.0376},
        {"date": "2016-02-16", "mode": "mode 2", "value": -0.0484},
        {"date": "2016-02-21", "mode": "mode 2", "value": -0.0538},
        {"date": "2016-02-25", "mode": "mode 2", "value": -0.0349},
        {"date": "2016-02-29", "mode": "mode 2", "value": -0.0269},
        {"date": "2016-03-04", "mode": "mode 2", "value": -0.0188},
        {"date": "2016-03-09", "mode": "mode 2", "value": -0.0108},
        {"date": "2016-03-13", "mode": "mode 2", "value": -0.0296},
        {"date": "2016-03-17", "mode": "mode 2", "value": -0.0269},
        {"date": "2016-03-21", "mode": "mode 2", "value": -0.0376},
        {"date": "2016-03-26", "mode": "mode 2", "value": -0.0484},
        {"date": "2016-03-30", "mode": "mode 2", "value": -0.0618},
        {"date": "2016-04-02", "mode": "mode 2", "value": -0.0659},
        {"date": "2016-04-07", "mode": "mode 2", "value": -0.0484},
        {"date": "2016-04-11", "mode": "mode 2", "value": -0.0376},
        {"date": "2016-04-16", "mode": "mode 2", "value": -0.0538},
        {"date": "2016-04-20", "mode": "mode 2", "value": -0.0430},
        {"date": "2016-04-24", "mode": "mode 2", "value": -0.0323},
        {"date": "2016-04-30", "mode": "mode 2", "value": -0.0349},
        {"date": "2016-05-07", "mode": "mode 2", "value": -0.0188},
        {"date": "2016-05-11", "mode": "mode 2", "value": -0.0269},
        {"date": "2016-05-15", "mode": "mode 2", "value": -0.0215},
        {"date": "2016-05-20", "mode": "mode 2", "value": -0.0296},
        {"date": "2016-05-24", "mode": "mode 2", "value": -0.0188},
        {"date": "2016-05-28", "mode": "mode 2", "value": -0.0242},
        {"date": "2016-06-03", "mode": "mode 2", "value": -0.0161},
        {"date": "2016-06-08", "mode": "mode 2", "value": -0.0215},
        {"date": "2016-06-12", "mode": "mode 2", "value": -0.0242},
        {"date": "2016-06-18", "mode": "mode 2", "value": -0.0108},
        {"date": "2016-06-25", "mode": "mode 2", "value": 0.0027},
        {"date": "2016-07-01", "mode": "mode 2", "value": 0.0242},
        {"date": "2016-07-05", "mode": "mode 2", "value": 0.0215},
        {"date": "2016-07-09", "mode": "mode 2", "value": 0.0161},
        {"date": "2016-07-14", "mode": "mode 2", "value": 0.0081},
        {"date": "2016-07-18", "mode": "mode 2", "value": 0.0054},
        {"date": "2016-07-22", "mode": "mode 2", "value": -0.0108},
        {"date": "2016-07-26", "mode": "mode 2", "value": -0.0188},
        {"date": "2016-07-31", "mode": "mode 2", "value": -0.0242},
        {"date": "2016-08-04", "mode": "mode 2", "value": -0.0323},
        {"date": "2016-08-08", "mode": "mode 2", "value": -0.0269},
        {"date": "2016-08-12", "mode": "mode 2", "value": -0.0188},
        {"date": "2016-08-16", "mode": "mode 2", "value": -0.0323},
        {"date": "2016-08-21", "mode": "mode 2", "value": -0.0403},
        {"date": "2016-08-25", "mode": "mode 2", "value": -0.0296},
        {"date": "2016-08-29", "mode": "mode 2", "value": -0.0242},
        {"date": "2016-09-02", "mode": "mode 2", "value": -0.0296},
        {"date": "2016-09-07", "mode": "mode 2", "value": -0.0134},
        {"date": "2016-09-11", "mode": "mode 2", "value": -0.0081},
        {"date": "2016-09-15", "mode": "mode 2", "value": -0.0242},
        {"date": "2016-09-19", "mode": "mode 2", "value": 0.0081},
        {"date": "2016-09-24", "mode": "mode 2", "value": 0.0134},
        {"date": "2016-09-28", "mode": "mode 2", "value": 0.0027},
        {"date": "2016-10-02", "mode": "mode 2", "value": -0.0242},
        {"date": "2016-10-06", "mode": "mode 2", "value": -0.0108},
        {"date": "2016-10-10", "mode": "mode 2", "value": 0.0027},
        {"date": "2016-10-15", "mode": "mode 2", "value": -0.0027},
        {"date": "2016-10-19", "mode": "mode 2", "value": 0.0296},
        {"date": "2016-10-23", "mode": "mode 2", "value": 0.0511},
        {"date": "2016-10-27", "mode": "mode 2", "value": 0.0376},
        {"date": "2016-11-01", "mode": "mode 2", "value": 0.0511},
        {"date": "2016-11-05", "mode": "mode 2", "value": 0.0296},
        {"date": "2016-11-09", "mode": "mode 2", "value": 0.0403},
        {"date": "2016-11-13", "mode": "mode 2", "value": 0.0296},
        {"date": "2016-11-18", "mode": "mode 2", "value": 0.0376},
        {"date": "2016-11-22", "mode": "mode 2", "value": 0.0323},
        {"date": "2016-11-26", "mode": "mode 2", "value": 0.0430},
        {"date": "2016-11-30", "mode": "mode 2", "value": 0.0457},
        {"date": "2016-12-05", "mode": "mode 2", "value": 0.0403},
        {"date": "2016-12-11", "mode": "mode 2", "value": 0.0511},
        {"date": "2016-12-15", "mode": "mode 2", "value": 0.0484},
        {"date": "2016-12-19", "mode": "mode 2", "value": 0.0403},
        {"date": "2016-12-24", "mode": "mode 2", "value": 0.0376},
        {"date": "2016-12-28", "mode": "mode 2", "value": 0.0242},
        {"date": "2017-01-01", "mode": "mode 2", "value": 0.0349},
        {"date": "2017-01-05", "mode": "mode 2", "value": 0.0323},
        {"date": "2017-01-10", "mode": "mode 2", "value": 0.0215},
        {"date": "2017-01-16", "mode": "mode 2", "value": 0.0242},
        {"date": "2017-01-20", "mode": "mode 2", "value": 0.0134},
        {"date": "2017-01-26", "mode": "mode 2", "value": 0.0188},
        {"date": "2017-01-31", "mode": "mode 2", "value": 0.0215},
        {"date": "2017-02-04", "mode": "mode 2", "value": 0.0188},
        {"date": "2017-02-08", "mode": "mode 2", "value": 0.0054},
        {"date": "2017-02-12", "mode": "mode 2", "value": 0.0134},
        {"date": "2017-02-17", "mode": "mode 2", "value": 0.0134},
        {"date": "2017-02-21", "mode": "mode 2", "value": -0.0027},
        {"date": "2017-02-25", "mode": "mode 2", "value": 0.0108},
        {"date": "2017-03-01", "mode": "mode 2", "value": 0.0161},
        {"date": "2017-03-06", "mode": "mode 2", "value": 0.0134},
        {"date": "2017-03-10", "mode": "mode 2", "value": 0.0215},
        {"date": "2017-03-16", "mode": "mode 2", "value": 0.0242},
        {"date": "2017-03-20", "mode": "mode 2", "value": 0.0161},
        {"date": "2017-03-25", "mode": "mode 2", "value": 0.0},
        {"date": "2017-03-31", "mode": "mode 2", "value": 0.0134},
        {"date": "2017-04-04", "mode": "mode 2", "value": 0.0188},
        {"date": "2017-04-08", "mode": "mode 2", "value": 0.0108},
        {"date": "2017-04-13", "mode": "mode 2", "value": 0.0296},
        {"date": "2017-04-17", "mode": "mode 2", "value": 0.0323},
        {"date": "2017-04-21", "mode": "mode 2", "value": 0.0296},
        {"date": "2017-04-25", "mode": "mode 2", "value": 0.0269},
        {"date": "2017-04-30", "mode": "mode 2", "value": 0.0430},
        {"date": "2017-05-04", "mode": "mode 2", "value": 0.0511},
        {"date": "2017-05-08", "mode": "mode 2", "value": 0.0296},
        {"date": "2017-05-12", "mode": "mode 2", "value": 0.0323},
        {"date": "2017-05-17", "mode": "mode 2", "value": 0.0161},
        {"date": "2017-05-20", "mode": "mode 2", "value": 0.0175}
      ]},
      "layer": [
        {
          "mark": {"type": "line", "strokeWidth": 1.8, "clip": true},
          "encoding": {
            "x": {"field": "date", "type": "temporal",
              "scale": {"type": "utc", "domain": [{"year": 2012, "month": 7, "date": 12, "utc": true}, {"year": 2017, "month": 5, "date": 22, "utc": true}], "nice": false},
              "axis": {"orient": "bottom", "offset": -72.7, "domain": true, "tickCount": {"interval": "month", "step": 1},
                "tickSize": {"condition": {"test": "utcmonth(datum.value) % 6 == 0", "value": 16}, "value": 8},
                "gridOpacity": {"condition": {"test": "utcmonth(datum.value) % 6 == 0", "value": 1}, "value": 0},
                "grid": true,
                "labelExpr": "utcmonth(datum.value) % 6 == 0 ? utcFormat(datum.value, '%b%y') : ''",
                "labelPadding": 2,
                "title": "(b)", "titleX": -8, "titleY": 65, "titleAlign": "left", "titleBaseline": "alphabetic", "titleAnchor": "start", "titleFontSize": 18.5}},
            "y": {"field": "value", "type": "quantitative", "scale": {"domain": [-0.075, 0.075], "range": [258.3, 72.3], "nice": false, "zero": false},
              "axis": {"orient": "left", "domain": true, "values": [-0.05, 0, 0.05], "title": null, "tickSize": 16, "labelPadding": 7, "grid": true,
                "labelExpr": "datum.value == 0 ? '0' : (datum.value < 0 ? '-' : '') + format(abs(datum.value), '.2f')"}},
            "color": {"field": "mode", "type": "nominal", "scale": {"domain": ["mode 1", "mode 2"], "range": ["#0B7BC5", "#FF5A10"]},
              "legend": {"orient": "none", "legendX": 184, "legendY": 86, "direction": "horizontal", "title": null,
                "symbolType": "M-1.55,0H1.55", "symbolSize": 400, "symbolStrokeWidth": 1.8, "symbolOffset": 8.5, "labelFontSize": 15, "labelColor": "#262626",
                "labelOffset": 9, "columnPadding": 4, "padding": 2, "strokeColor": "#4d4d4d", "fillColor": "white"}}
          }
        },
        {
          "mark": {"type": "point", "opacity": 0},
          "encoding": {
            "x": {"field": "date", "type": "temporal",
              "axis": {"orient": "top", "offset": -72.3, "domain": true, "tickCount": {"interval": "month", "step": 1},
                "tickSize": {"condition": {"test": "utcmonth(datum.value) % 6 == 0", "value": 13}, "value": 8},
                "labels": false, "grid": false, "title": null}},
            "y": {"field": "value", "type": "quantitative",
              "axis": {"orient": "right", "domain": true, "values": [-0.05, 0, 0.05], "labels": false, "grid": false, "title": null, "tickSize": -11}}
          }
        }
      ],
      "resolve": {"axis": {"x": "independent", "y": "independent"}}
    }
  ]
}
